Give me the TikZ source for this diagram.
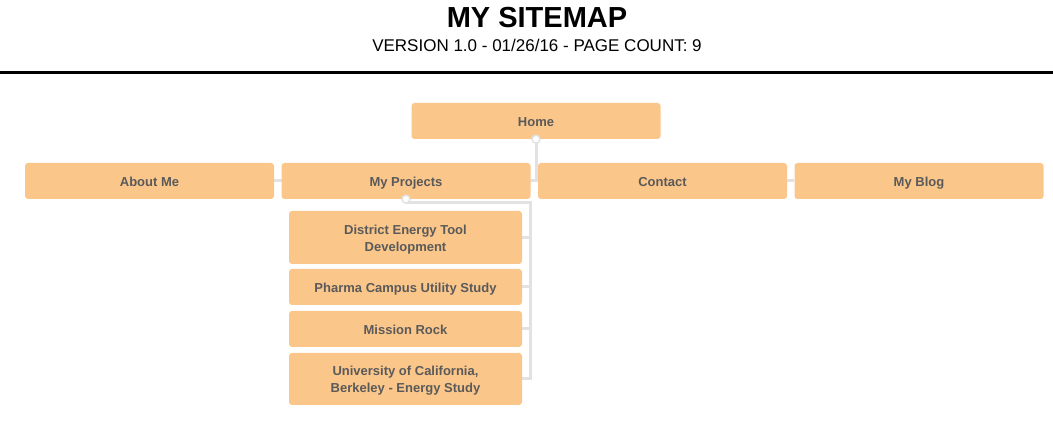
\documentclass[tikz,border=0pt]{standalone}
\usepackage{fontspec}
\setmainfont{Liberation Sans}
\usetikzlibrary{backgrounds}
\definecolor{boxorange}{HTML}{FBC68A}
\definecolor{boxtext}{HTML}{5A5A5A}
\definecolor{linkgray}{HTML}{E2E2E2}

\begin{document}
\begin{tikzpicture}[x=1pt,y=-1pt,
  page/.style={rounded corners=3pt,fill=boxorange,text=boxtext,inner sep=0pt,
    minimum width=249pt,minimum height=36pt,align=center,
    text height=11pt,text depth=0pt,font=\fontsize{13}{17}\selectfont\bfseries},
  subpage/.style={page,minimum width=233pt},
  link/.style={linkgray,line width=3pt},
  joint/.style={circle,fill=white,draw=linkgray,line width=1.5pt,minimum size=8pt,inner sep=0pt}]
  \useasboundingbox (0,0) rectangle (1053,427);
  % titel
  \node[anchor=base] (title) at (537,28) {\fontsize{29}{29}\selectfont\bfseries MY SITEMAP};
  \node[anchor=base] (version) at (537,52) {\fontsize{17}{17}\selectfont VERSION 1.0 - 01/26/16 - PAGE COUNT: 9};
  \draw[line width=3pt] (0,73) -- (1053,73);
  % pages
  \node[page] (home) at (536,121) {Home};
  \node[page] (about) at (149.5,181) {About Me};
  \node[page] (proj) at (406,181) {My Projects};
  \node[page] (contact) at (662.5,181) {Contact};
  \node[page] (blog) at (919,181) {My Blog};
  \node[subpage,minimum height=53pt,text height=28pt] (dist) at (405.5,237.5) {District Energy Tool\\Development};
  \node[subpage] (pharma) at (405.5,287) {Pharma Campus Utility Study};
  \node[subpage] (mission) at (405.5,329) {Mission Rock};
  \node[subpage,minimum height=52pt,text height=28pt] (univ) at (405.5,379) {University of California,\\Berkeley - Energy Study};
  % links
  \begin{scope}[on background layer]
    \draw[link] (home.south) -- (home.south |- about.center);
    \draw[link] (about) -- (blog);
    \coordinate (bus) at (530,203);
    \draw[link] (proj.south) |- (bus) |- (univ.east);
    \draw[link] (bus |- dist.east) -- (dist.east);
    \draw[link] (bus |- pharma.east) -- (pharma.east);
    \draw[link] (bus |- mission.east) -- (mission.east);
  \end{scope}
  \node[joint] (homejoint) at (home.south) {};
  \node[joint] (projjoint) at (proj.south) {};
\end{tikzpicture}
\end{document}
